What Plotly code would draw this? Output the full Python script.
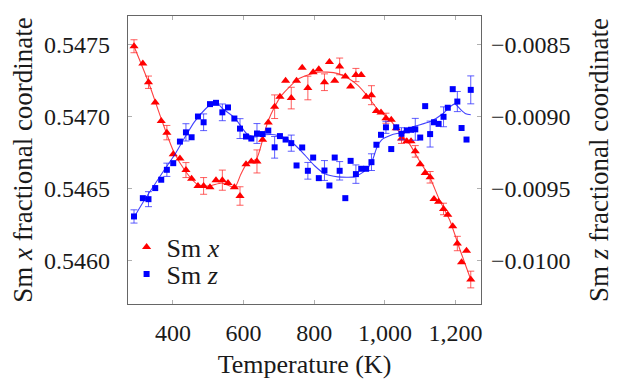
import plotly.graph_objects as go

# Temperatures (K) of measured points
temperature = [290, 315, 331, 350, 367, 383, 401, 420, 437, 453, 471, 487, 505, 522, 540, 556,
               574, 590, 607, 622, 638, 654, 670, 688, 703, 719, 735, 750, 766, 782, 797, 813,
               829, 843, 858, 872, 888, 903, 918, 933, 947, 962, 976, 989, 1003, 1018, 1032,
               1047, 1062, 1074, 1086, 1100, 1114, 1128, 1139, 1152, 1166, 1178, 1192, 1205,
               1217, 1231, 1243]

# Sm x fractional coordinate (left axis)
sm_x = [0.54749, 0.54737, 0.54724, 0.54710, 0.54697, 0.54689, 0.54674, 0.54671, 0.54663,
        0.54657, 0.54652, 0.54652, 0.54651, 0.54656, 0.54656, 0.54654, 0.54651, 0.54645,
        0.54667, 0.54669, 0.54669, 0.54684, 0.54696, 0.54707, 0.54714, 0.54725, 0.54713,
        0.54725, 0.54734, 0.54720, 0.54731, 0.54733, 0.54724, 0.54738, 0.54725, 0.54735,
        0.54728, 0.54721, 0.54729, 0.54729, 0.54714, 0.54715, 0.54704, 0.54703, 0.54699,
        0.54698, 0.54692, 0.54685, 0.54683, 0.54683, 0.54676, 0.54667, 0.54661, 0.54658,
        0.54643, 0.54641, 0.54636, 0.54632, 0.54624, 0.54612, 0.54599, 0.54607, 0.54587]

sm_x_err = [0.000045, None, 0.000043, None, None, 0.000050, None, None, 0.000052,
            None, None, 0.000058, None, None, 0.000070, None, None, 0.000064,
            None, None, 0.000080, None, None, 0.000082, None, None, 0.000075,
            None, None, 0.000082, None, None, 0.000058, None, None, 0.000058,
            None, None, 0.000046, None, None, 0.000066, None, None, 0.000035,
            None, None, 0.000035, None, None, 0.000040, None, None, 0.000040,
            None, None, 0.000040, None, None, 0.000050, None, None, 0.000058]

# Sm z fractional coordinate (right axis)
sm_z = [-0.009692, -0.009565, -0.009572, -0.009495, -0.009437, -0.009368, -0.009322, -0.009172,
        -0.009108, -0.009142, -0.008998, -0.009038, -0.008912, -0.008903, -0.008969, -0.008935,
        -0.009012, -0.009082, -0.009137, -0.009151, -0.009116, -0.009120, -0.009096, -0.009212,
        -0.009134, -0.009158, -0.009183, -0.009338, -0.009213, -0.009375, -0.009283, -0.009426,
        -0.009373, -0.009477, -0.009283, -0.009375, -0.009565, -0.009306, -0.009398, -0.009361,
        -0.009361, -0.009315, -0.009194, -0.009125, -0.009073, -0.009224, -0.009073, -0.009118,
        -0.009094, -0.009090, -0.009087, -0.009144, -0.008926, -0.009120, -0.009038, -0.009049,
        -0.009000, -0.008937, -0.008808, -0.008894, -0.009078, -0.009158, -0.008813]

sm_z_err = [0.000046, None, 0.000052, None, None, 0.000046, None, None, 0.000060,
            None, None, 0.000058, None, None, 0.000058, None, None, 0.000069,
            None, None, 0.000069, None, None, 0.000075, None, None, 0.000056,
            None, None, 0.000058, None, None, 0.000069, None, None, 0.000064,
            None, None, 0.000064, None, None, 0.000058, None, None, 0.000042,
            None, None, 0.000042, None, None, 0.000076, None, None, 0.000090,
            None, None, 0.000069, None, None, 0.000070, None, None, 0.000097]

# Smoothed fit curves
fit_x_temp = [290, 331, 368, 402, 436, 470, 504, 538, 575, 592, 608, 637, 654, 668, 688, 708,
              731, 753, 782, 810, 838, 867, 895, 923, 952, 980, 1014, 1042, 1070, 1099, 1127,
              1155, 1184, 1212, 1243]
fit_x_val = [0.54749, 0.54724, 0.54698, 0.54676, 0.54662, 0.54653, 0.54652, 0.54654, 0.54651,
             0.54660, 0.54667, 0.54671, 0.54684, 0.54696, 0.54707, 0.54715, 0.54721, 0.54726,
             0.54729, 0.54731, 0.54731, 0.54730, 0.54727, 0.54722, 0.54714, 0.54705, 0.54698,
             0.54689, 0.54681, 0.54669, 0.54658, 0.54642, 0.54628, 0.54608, 0.54587]

fit_z_temp = [291, 320, 348, 376, 405, 433, 461, 490, 510, 524, 541, 575, 609, 631, 660, 688,
              716, 745, 773, 801, 830, 867, 915, 943, 963, 977, 991, 1020, 1042, 1079, 1127,
              1164, 1184, 1198, 1215, 1229, 1243]
fit_z_val = [-0.009694, -0.009576, -0.009472, -0.009368, -0.009264, -0.009146, -0.009035,
             -0.008951, -0.008910, -0.008903, -0.008944, -0.009007, -0.009118, -0.009139,
             -0.009125, -0.009125, -0.009146, -0.009194, -0.009264, -0.009340, -0.009396,
             -0.009417, -0.009417, -0.009375, -0.009313, -0.009215, -0.009160, -0.009125,
             -0.009111, -0.009069, -0.009035, -0.008979, -0.008931, -0.008910, -0.008951,
             -0.008979, -0.008986]

x_ticks = [400, 600, 800, 1000, 1200]
left_ticks = [0.5460, 0.5465, 0.5470, 0.5475]
right_ticks = [-0.0100, -0.0095, -0.0090, -0.0085]

RED = "#ff0000"
BLUE = "#0000ff"
FONT = "'Liberation Serif', 'DejaVu Serif', serif"
TXT = "#1a1a1a"

fig = go.Figure()

fig.add_trace(go.Scatter(x=fit_x_temp, y=fit_x_val, mode="lines",
                         line=dict(color="rgba(255,0,0,0.75)", width=1.1, shape="spline", smoothing=0.6),
                         showlegend=False, hoverinfo="skip", yaxis="y"))

ex_t = [t for t, e in zip(temperature, sm_x_err) if e is not None]
ex_v = [v for v, e in zip(sm_x, sm_x_err) if e is not None]
ex_e = [e for e in sm_x_err if e is not None]
fig.add_trace(go.Scatter(x=ex_t, y=ex_v, mode="markers", marker=dict(size=1, opacity=0),
                         error_y=dict(type="data", array=ex_e, color="rgba(255,40,40,0.75)",
                                      thickness=1, width=3.5),
                         showlegend=False, hoverinfo="skip", yaxis="y"))

fig.add_trace(go.Scatter(x=temperature, y=sm_x, mode="markers", name="Sm <i>x</i>",
                         marker=dict(symbol="triangle-up", size=8, color=RED), yaxis="y",
                         legend="legend"))

fig.add_trace(go.Scatter(x=fit_z_temp, y=fit_z_val, mode="lines",
                         line=dict(color="rgba(0,0,255,0.75)", width=1.1, shape="spline", smoothing=0.6),
                         showlegend=False, hoverinfo="skip", yaxis="y2"))

ez_t = [t for t, e in zip(temperature, sm_z_err) if e is not None]
ez_v = [v for v, e in zip(sm_z, sm_z_err) if e is not None]
ez_e = [e for e in sm_z_err if e is not None]
fig.add_trace(go.Scatter(x=ez_t, y=ez_v, mode="markers", marker=dict(size=1, opacity=0),
                         error_y=dict(type="data", array=ez_e, color="rgba(40,40,255,0.75)",
                                      thickness=1, width=3.5),
                         showlegend=False, hoverinfo="skip", yaxis="y2"))

fig.add_trace(go.Scatter(x=temperature, y=sm_z, mode="markers", name="Sm <i>z</i>",
                         marker=dict(symbol="square", size=6, color=BLUE), yaxis="y2",
                         legend="legend2"))

axis_common = dict(showgrid=False, zeroline=False, showline=True, linecolor="#666666",
                   linewidth=1.3, ticks="inside", ticklen=4, tickcolor="#b0b0b0",
                   automargin=False,
                   tickfont=dict(family=FONT, size=24, color=TXT))

legend_common = dict(xanchor="left", yanchor="middle", bgcolor="rgba(0,0,0,0)",
                     font=dict(family=FONT, size=26, color=TXT), itemwidth=30)

# page body has an 8px margin; figure is sized/margined so the plot area lands
# where the reference has it
fig.update_layout(
    width=613, height=371,
    margin=dict(l=120, r=140, t=8, b=75),
    paper_bgcolor="white", plot_bgcolor="white",
    font=dict(family=FONT, color=TXT),
    xaxis=dict(range=[273, 1272], tickvals=x_ticks, tickformat=",d", mirror="ticks",
               ticklabelstandoff=7,
               title=dict(text="Temperature (K)", font=dict(family=FONT, size=26, color=TXT),
                          standoff=14),
               **axis_common),
    yaxis=dict(range=[0.5457, 0.5477], tickvals=left_ticks, tickformat=".4f",
               ticklabelstandoff=12,
               title=dict(text="Sm <i>x</i> fractional coordinate",
                          font=dict(family=FONT, size=27, color=TXT), standoff=12),
               **axis_common),
    yaxis2=dict(range=[-0.0103, -0.0083], tickvals=right_ticks, tickformat=".4f",
                overlaying="y", side="right", ticklabelstandoff=4,
                title=dict(text="Sm <i>z</i> fractional coordinate",
                           font=dict(family=FONT, size=27, color=TXT), standoff=19),
                **axis_common),
    legend=dict(x=-0.004, y=0.198, **legend_common),
    legend2=dict(x=-0.004, y=0.104, **legend_common),
)

fig.write_html("out.html")
